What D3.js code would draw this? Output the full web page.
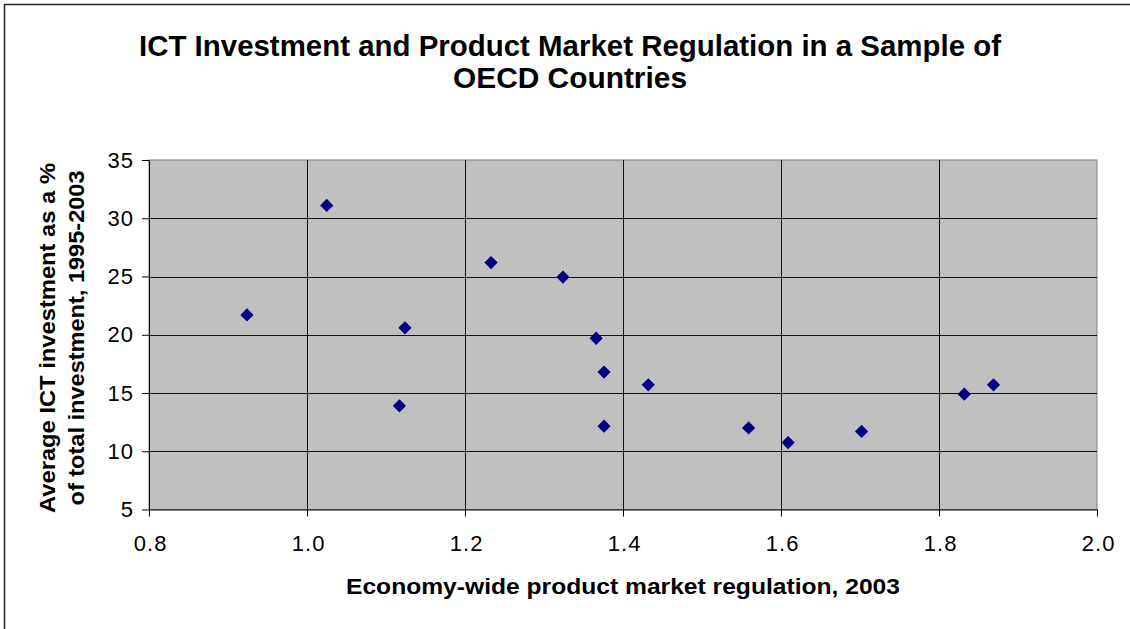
<!DOCTYPE html>
<html>
<head>
<meta charset="utf-8">
<script src="https://cdn.jsdelivr.net/npm/d3@7"></script>
<style>
    body { margin: 0; background: #fff; }
    text { font-family: "Liberation Sans", Arial, sans-serif; }
</style>
</head>
<body>
<div id="chart"></div>
<script>
// values
const regulation = [0.924, 1.025, 1.124, 1.117, 1.233, 1.324, 1.366, 1.376, 1.432, 1.376, 1.559, 1.609, 1.702, 1.832, 1.869];
const ictShare = [21.7, 31.1, 20.6, 13.9, 26.2, 24.95, 19.7, 16.8, 15.7, 12.15, 12.0, 10.75, 11.7, 14.9, 15.7];

const xTicks = [0.8, 1.0, 1.2, 1.4, 1.6, 1.8, 2.0];
const yTicks = [5, 10, 15, 20, 25, 30, 35];

const titleLines = ["ICT Investment and Product Market Regulation in a Sample of", "OECD Countries"];
const yTitleLines = ["Average ICT investment as a %", "of total investment, 1995-2003"];
const xTitle = "Economy-wide product market regulation, 2003";

function ShowGraph(config)
{
    const plot = { left: 149, right: 1097, top: 160, bottom: 509.5 };

    const svg = d3.select(config.root)
        .append("svg")
        .attr("width", config.width)
        .attr("height", config.height);

    // outer chart frame (runs off the right and bottom edge)
    svg.append("rect")
        .attr("x", 4.5)
        .attr("y", 4.5)
        .attr("width", 1300)
        .attr("height", 800)
        .attr("fill", "white")
        .attr("stroke", "#222")
        .attr("stroke-width", 1.5);

    const xScale = d3.scaleLinear()
        .domain([0.8, 2.0])
        .range([plot.left, plot.right]);

    const yScale = d3.scaleLinear()
        .domain([5, 35])
        .range([plot.bottom, plot.top]);

    svg.append("rect")
        .attr("x", plot.left)
        .attr("y", plot.top)
        .attr("width", plot.right - plot.left)
        .attr("height", plot.bottom - plot.top)
        .attr("fill", "#c0c0c0")
        .attr("stroke", "#808080")
        .attr("stroke-width", 1);

    // gridlines
    svg.append("g")
        .selectAll("line.h")
        .data(yTicks.slice(1, -1))
        .join("line")
        .attr("x1", plot.left)
        .attr("x2", plot.right)
        .attr("y1", d => Math.round(yScale(d)) + 0.5)
        .attr("y2", d => Math.round(yScale(d)) + 0.5)
        .attr("stroke", "#111");

    svg.append("g")
        .selectAll("line.v")
        .data(xTicks.slice(1, -1))
        .join("line")
        .attr("y1", plot.top)
        .attr("y2", plot.bottom)
        .attr("x1", d => Math.round(xScale(d)) + 0.5)
        .attr("x2", d => Math.round(xScale(d)) + 0.5)
        .attr("stroke", "#111");

    const xAxis = svg.append("g")
        .attr("transform", `translate(0, ${plot.bottom})`)
        .call(d3.axisBottom(xScale)
            .tickValues(xTicks)
            .tickFormat(d3.format(".1f"))
            .tickSize(7)
            .tickSizeOuter(0)
            .tickPadding(19));

    const yAxis = svg.append("g")
        .attr("transform", `translate(${plot.left}, 0)`)
        .call(d3.axisLeft(yScale)
            .tickValues(yTicks)
            .tickSize(7)
            .tickSizeOuter(0)
            .tickPadding(8));

    for(const ax of [xAxis, yAxis])
    {
        ax.select(".domain").attr("stroke", "#000");
        ax.selectAll(".tick line").attr("stroke", "#000");
        ax.selectAll(".tick text")
            .attr("fill", "#000")
            .style("font-size", "22px")
            .style("font-family", "'Liberation Sans', Arial, sans-serif");
    }
    xAxis.selectAll(".tick text").attr("dx", "0.05em").style("letter-spacing", "1px");
    yAxis.selectAll(".tick text").style("letter-spacing", "1px");

    // markers
    const pts = regulation.map((v, i) => ({ x: v, y: ictShare[i] }));
    svg.append("g")
        .selectAll("path")
        .data(pts)
        .join("path")
        .attr("d", d3.symbol().type(d3.symbolSquare).size(88))
        .attr("transform", d => `translate(${xScale(d.x)}, ${yScale(d.y)}) rotate(45)`)
        .attr("fill", "#000080");

    // titles
    const titleW = [862, 234];
    titleLines.forEach((t, i) => {
        svg.append("text")
            .attr("x", 570)
            .attr("y", 56 + 32 * i)
            .attr("text-anchor", "middle")
            .attr("textLength", titleW[i])
            .attr("lengthAdjust", "spacingAndGlyphs")
            .style("font-size", "29px")
            .style("font-weight", "bold")
            .text(t);
    });

    const yTitleW = [350, 335];
    yTitleLines.forEach((t, i) => {
        svg.append("text")
            .attr("transform", `translate(${55 + 29 * i}, 338) rotate(-90)`)
            .attr("text-anchor", "middle")
            .attr("textLength", yTitleW[i])
            .attr("lengthAdjust", "spacingAndGlyphs")
            .style("font-size", "22px")
            .style("font-weight", "bold")
            .text(t);
    });

    svg.append("text")
        .attr("x", 623)
        .attr("y", 594)
        .attr("text-anchor", "middle")
        .attr("textLength", 554)
        .attr("lengthAdjust", "spacingAndGlyphs")
        .style("font-size", "22px")
        .style("font-weight", "bold")
        .text(xTitle);
}

ShowGraph({ root: "#chart", width: 1130, height: 629 });
</script>
</body>
</html>
